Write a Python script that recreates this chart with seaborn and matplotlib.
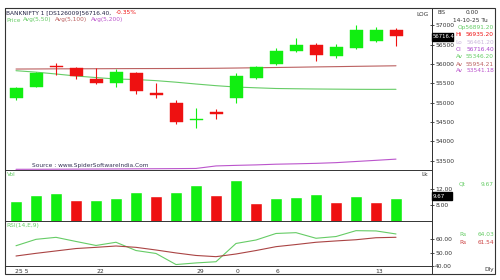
import numpy as np
import pandas as pd
import matplotlib
matplotlib.use("Agg")
import matplotlib.pyplot as plt
import seaborn as sns
from matplotlib.patches import Rectangle
from matplotlib.lines import Line2D

# ---------------- data ----------------
opens  = [55113, 55413, 55956, 55889, 55620, 55501, 55760, 55258, 54984, 54560,
          54767, 55129, 55646, 55992, 56344, 56491, 56215, 56421, 56595, 56891.2]
highs  = [55398, 55793, 56018, 55910, 55889, 55863, 55793, 55501, 55069, 54870,
          54837, 55760, 55948, 56414, 56680, 56535, 56517, 57008, 56949, 56935.2]
lows   = [55082, 55393, 55716, 55604, 55475, 55398, 55225, 55113, 54449, 54353,
          54570, 55000, 55625, 55974, 56302, 56085, 56147, 56400, 56569, 56461.2]
closes = [55372, 55760, 55930, 55690, 55501, 55785, 55310, 55199, 54508, 54586,
          54700, 55690, 55915, 56336, 56491, 56233, 56439, 56887, 56871, 56716.4]

ma50  = [55827, 55790, 55742, 55690, 55650, 55612, 55599, 55570, 55530, 55483,
         55440, 55405, 55385, 55367, 55360, 55354, 55350, 55346, 55344, 55346.2]
ma100 = [55870, 55872, 55875, 55876, 55878, 55880, 55882, 55883, 55884, 55886,
         55890, 55896, 55903, 55910, 55917, 55925, 55932, 55940, 55947, 55954.21]
ma200 = [53278, 53279, 53281, 53283, 53285, 53287, 53290, 53293, 53296, 53300,
         53365, 53380, 53392, 53410, 53420, 53432, 53450, 53480, 53510, 53541.18]

volume = [8.9, 10.5, 11.05, 9.3, 9.35, 9.7, 11.3, 10.2, 11.3, 12.95,
          10.4, 14.3, 8.4, 9.7, 10.1, 10.7, 8.7, 10.3, 8.7, 9.67]

rsi      = [55.2, 60.0, 61.5, 58.4, 55.4, 57.8, 51.6, 49.4, 41.1, 42.3,
            43.2, 56.9, 59.5, 64.4, 65.0, 60.8, 62.1, 66.5, 66.3, 64.03]
rsi_sig  = [47.5, 49.5, 51.3, 53.1, 54.0, 55.0, 54.0, 52.0, 49.8, 47.9,
            47.0, 49.0, 51.6, 54.5, 56.1, 57.8, 58.8, 59.7, 61.2, 61.54]

date_pos    = [0.3, 4.2, 9.2, 11.1, 13.1, 18.15]
date_labels = ["25 5", "22", "29", "0", "6", "13"]

price_ticks = [53500, 54000, 54500, 55000, 55500, 56000, 56500, 57000]
vol_ticks   = [8, 12]
rsi_ticks   = [40, 50, 60]

# ---------------- style ----------------
sns.set_theme(style="white")
plt.rcParams["font.family"] = ["DejaVu Sans"]

GREEN = "#11ee11"
RED = "#ee1111"
MA_G = "#66cc66"
MA_R = "#bb6060"
MA_P = "#bb55cc"
DARK = "#333333"
W, H = 500, 280

fig = plt.figure(figsize=(5, 2.8), dpi=100)
fig.patch.set_facecolor("white")


def box(x0, y0, x1, y1):
    return [x0 / W, 1 - y1 / H, (x1 - x0) / W, (y1 - y0) / H]


def T(x, y, s, c=DARK, size=4.2, ha="left", va="center", **kw):
    fig.text(x / W, 1 - y / H, s, color=c, fontsize=size, ha=ha, va=va, **kw)


XL = (-0.55, 20.8)
idx = np.arange(len(opens))

# ---------------- main price panel ----------------
ax = fig.add_axes(box(5, 8, 432, 170))
ax.set_xlim(*XL)
ax.set_ylim(53260, 57448)
for i in idx:
    o, h, l, c = opens[i], highs[i], lows[i], closes[i]
    col = GREEN if c >= o else RED
    ax.vlines(i, l, h, color=col, lw=0.8, zorder=2)
    b = min(o, c)
    hh = max(abs(c - o), 28)
    ax.bar(i, hh, bottom=b, width=0.65, color=col, edgecolor=col, lw=0.3, zorder=3)

sns.lineplot(x=idx, y=ma100, ax=ax, color=MA_R, lw=0.8, zorder=1)
sns.lineplot(x=idx, y=ma50, ax=ax, color=MA_G, lw=0.8, zorder=1)
sns.lineplot(x=idx, y=ma200, ax=ax, color=MA_P, lw=0.8, zorder=1)

ax.yaxis.tick_right()
ax.set_yticks(price_ticks)
ax.set_yticklabels([str(t) for t in price_ticks])
ax.set_xticks([])
ax.tick_params(axis="y", labelsize=4.3, length=2.5, direction="inout", pad=1,
               colors=DARK, width=0.6)
ax.set_xlabel("")
ax.set_ylabel("")

# ---------------- volume panel ----------------
axv = fig.add_axes(box(5, 170, 432, 221))
vdir = ["up"] + ["down" if volume[i] < volume[i - 1] else "up" for i in range(1, len(volume))]
vdf = pd.DataFrame({"i": idx, "v": volume, "d": vdir})
sns.barplot(data=vdf, x="i", y="v", hue="d", palette={"up": GREEN, "down": RED},
            dodge=False, width=0.58, legend=False, ax=axv, saturation=1,
            native_scale=True)
axv.set_xlim(*XL)
axv.set_ylim(4, 16.75)
axv.yaxis.tick_right()
axv.set_yticks(vol_ticks)
axv.set_yticklabels(["8.00", "12.00"])
axv.set_xticks([])
axv.tick_params(axis="y", labelsize=4.3, length=2.5, direction="inout", pad=1,
                colors=DARK, width=0.6)
axv.set_xlabel("")
axv.set_ylabel("")

# ---------------- RSI panel ----------------
axr = fig.add_axes(box(5, 221, 432, 266))
sns.lineplot(x=idx, y=rsi, ax=axr, color=MA_G, lw=0.8)
sns.lineplot(x=idx, y=rsi_sig, ax=axr, color="#aa4444", lw=0.8)
axr.set_xlim(*XL)
axr.set_ylim(40, 73.75)
axr.yaxis.tick_right()
axr.set_yticks(rsi_ticks)
axr.set_yticklabels(["40.00", "50.00", "60.00"])
axr.set_xticks(date_pos)
axr.set_xticklabels(date_labels)
axr.tick_params(axis="y", labelsize=4.3, length=2.5, direction="inout", pad=1,
                colors=DARK, width=0.6)
axr.tick_params(axis="x", labelsize=4.3, length=1.5, pad=0.5, colors=DARK, width=0.6)
axr.set_xlabel("")
axr.set_ylabel("")

for a in (ax, axv, axr):
    a.set_facecolor("white")
    for s in a.spines.values():
        s.set_color(DARK)
        s.set_linewidth(0.7)

# ---------------- frame ----------------
fig.patches.append(Rectangle((5 / W, 1 - 274 / H), 490 / W, 266 / H,
                             transform=fig.transFigure, fill=False,
                             edgecolor=DARK, lw=0.8, zorder=5))
fig.lines.append(Line2D([432 / W, 432 / W], [1 - 8 / H, 1 - 274 / H],
                        transform=fig.transFigure, color=DARK, lw=0.7))

# ---------------- texts ----------------
T(6, 12.5, "BANKNIFTY 1 [DS126009]56716.40,", c="#222244")
T(116, 12.5, "-0.35%", c=RED)
T(6, 20, "Price", c=MA_G)
T(23, 20, "Avg(5,50)", c=MA_G)
T(55, 20, "Avg(5,100)", c=MA_R)
T(91, 20, "Avg(5,200)", c=MA_P)
T(32, 166, "Source : www.SpiderSoftwareIndia.Com", c="#333355")

T(429, 15, "LOG", ha="right")
T(438, 13, "BIS", size=3.5)
T(472, 12, "0.00", ha="center")
T(453, 20.5, "14-10-25 Tu")
T(494, 28, "Op56891.20", c=MA_G, ha="right")
rows = [(35, "Hi", "56935.20", RED), (42.5, "Lo", "56461.20", "#ccb8dd"),
        (49.5, "Cl", "56716.40", "#aa44cc"), (57, "Av", "55346.20", MA_G),
        (64, "Av", "55954.21", MA_R), (71, "Av", "53541.18", MA_P)]
for y, p, v, c in rows:
    T(455.5, y, p, c=c)
    T(494, y, v, c=c, ha="right")

# black price box
fig.patches.append(Rectangle((432 / W, 1 - 40.5 / H), 20.5 / W, 8 / H,
                             transform=fig.transFigure, facecolor="black",
                             edgecolor="black", zorder=6))
fig.text(432.8 / W, 1 - 36.5 / H, "56716.4", color="white", fontsize=3.8,
         ha="left", va="center", zorder=7)

# volume texts
T(7, 175, "Vol", c=MA_G)
T(428, 175, "Lk", ha="right")
T(459, 184, "Qt", c=MA_G)
T(494, 184, "9.67", c=MA_G, ha="right")
fig.patches.append(Rectangle((432 / W, 1 - 200 / H), 20 / W, 8 / H,
                             transform=fig.transFigure, facecolor="black",
                             edgecolor="black", zorder=6))
fig.text(433 / W, 1 - 196 / H, "9.67", color="white", fontsize=4.0,
         ha="left", va="center", zorder=7)

# RSI texts
T(6, 226, "RSI(14,E,9)", c=MA_G)
T(459, 234, "Rs", c=MA_G)
T(494, 234, "64.03", c=MA_G, ha="right")
T(459, 242, "Rs", c="#cc4444")
T(494, 242, "61.54", c="#cc4444", ha="right")
T(494, 269, "Dly", ha="right")

fig.savefig("out.png", dpi=100, facecolor="white")
